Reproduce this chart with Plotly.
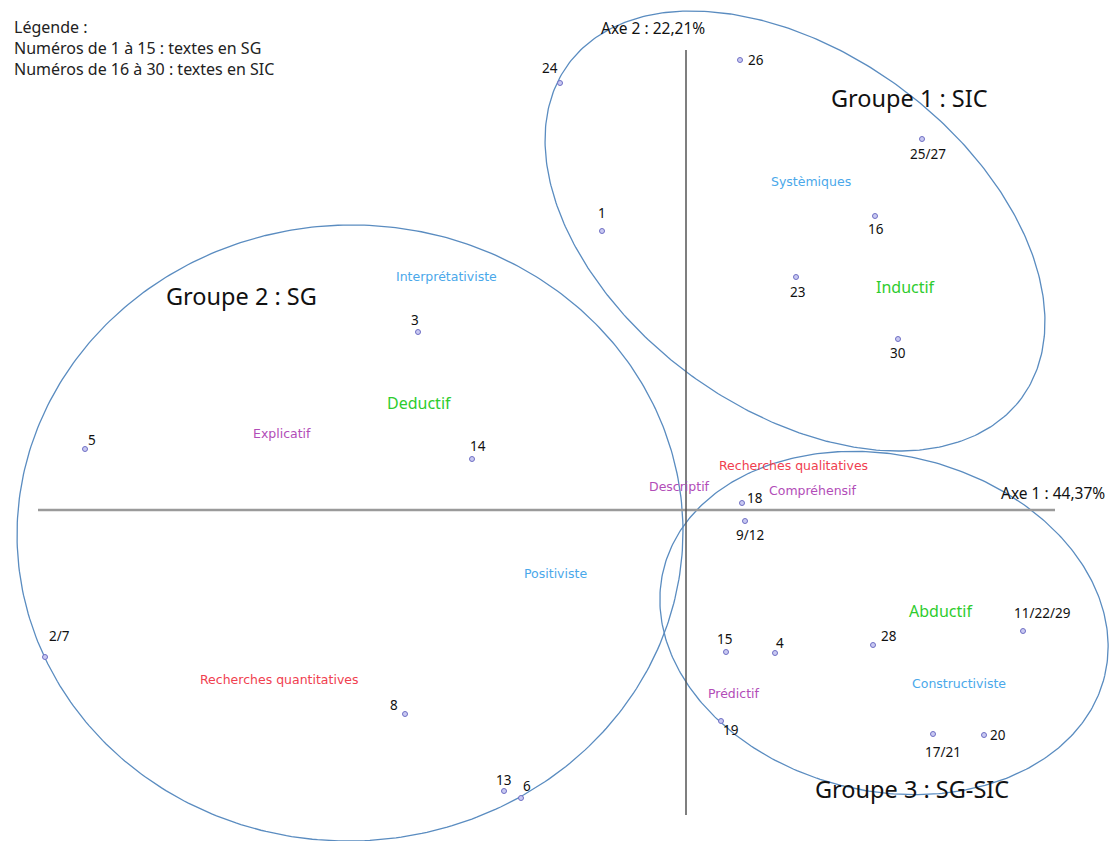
import numpy as np
import plotly.graph_objects as go

# ---- data (factorial plane coordinates, Axe 1 horizontal, Axe 2 vertical) ----
point_labels = ["24", "26", "25/27", "1", "16", "23", "30", "3", "5", "14",
                "18", "9/12", "2/7", "8", "13", "6", "15", "4", "28",
                "11/22/29", "19", "17/21", "20"]
point_x = [-1.26, 0.54, 2.36, -0.84, 1.89, 1.10, 2.12, -2.68, -6.01, -2.14,
           0.56, 0.59, -6.41, -2.81, -1.82, -1.65, 0.40, 0.89, 1.87,
           3.37, 0.35, 2.47, 2.98]
point_y = [4.27, 4.50, 3.71, 2.79, 2.94, 2.33, 1.71, 1.78, 0.61, 0.51,
           0.07, -0.11, -1.47, -2.04, -2.81, -2.88, -1.42, -1.43, -1.35,
           -1.21, -2.11, -2.24, -2.25]

concept_labels = ["Systèmiques", "Inductif", "Interprétativiste", "Deductif",
                  "Explicatif", "Recherches qualitatives", "Descriptif",
                  "Compréhensif", "Positiviste", "Abductif", "Constructiviste",
                  "Prédictif", "Recherches quantitatives"]
concept_kind = ["paradigme", "raisonnement", "paradigme", "raisonnement",
                "visee", "methode", "visee", "visee", "paradigme",
                "raisonnement", "paradigme", "visee", "methode"]
concept_x = [1.25, 2.20, -2.40, -2.67, -4.04, 1.07, -0.07, 1.27, -1.31,
             2.55, 2.73, 0.48, -4.07]
concept_y = [3.29, 2.23, 2.34, 1.07, 0.77, 0.45, 0.24, 0.20, -0.63,
             -1.01, -1.73, -1.83, -1.69]

group_labels = ["Groupe 1 : SIC", "Groupe 2 : SG", "Groupe 3 : SG-SIC"]
group_x = [2.23, -4.45, 2.26]
group_y = [4.12, 2.14, -2.79]
group_cx = [1.09, -3.36, 1.98]
group_cy = [2.79, -0.23, -1.13]
group_a = [2.815, 3.33, 2.269]
group_b = [1.779, 3.08, 1.68]
group_angle = [-36.4, 2.0, -13.4]

axis1_title = "Axe 1 : 44,37%"
axis2_title = "Axe 2 : 22,21%"
axis1_extent = [-6.48, 3.69]
axis2_extent = [-3.05, 4.60]

legend_lines = ["Légende :", "Numéros de 1 à 15 : textes en SG",
                "Numéros de 16 à 30 : textes en SIC"]

# ---- styles ----
label_offsets = {  # pixel offsets of number labels from their point
    "24": (-10, -15), "26": (16, 0), "25/27": (6, 15), "1": (0, -18),
    "16": (1, 13), "23": (1, 15), "30": (0, 14), "3": (-3, -12),
    "5": (7, -9), "14": (6, -13), "18": (13, -5), "9/12": (5, 14),
    "2/7": (14, -21), "8": (-11, -9), "13": (-1, -11), "6": (6, -12),
    "15": (-2, -13), "4": (5, -10), "28": (16, -9), "11/22/29": (19, -18),
    "19": (10, 9), "17/21": (10, 18), "20": (14, 0),
}
kind_style = {
    "paradigme": dict(color="#4aa8ea", size=12.5, family="DejaVu Sans"),
    "raisonnement": dict(color="#2ecc2e", size=16, family="Noto Sans"),
    "visee": dict(color="#b24db8", size=12.5, family="DejaVu Sans"),
    "methode": dict(color="#f0404f", size=12.5, family="DejaVu Sans"),
}
ELL_COLOR = "#5a8cc0"

fig = go.Figure()

# ellipses
t = np.linspace(0, 2 * np.pi, 400)
for cx, cy, a, b, ang in zip(group_cx, group_cy, group_a, group_b, group_angle):
    th = np.deg2rad(ang)
    ex = cx + a * np.cos(t) * np.cos(th) - b * np.sin(t) * np.sin(th)
    ey = cy + a * np.cos(t) * np.sin(th) + b * np.sin(t) * np.cos(th)
    fig.add_trace(go.Scatter(x=ex, y=ey, mode="lines",
                             line=dict(color=ELL_COLOR, width=1.3),
                             hoverinfo="skip", showlegend=False))

# axes lines
fig.add_trace(go.Scatter(x=axis1_extent, y=[0, 0], mode="lines",
                         line=dict(color="#9a9a9a", width=2.5),
                         hoverinfo="skip", showlegend=False))
fig.add_trace(go.Scatter(x=[0, 0], y=axis2_extent, mode="lines",
                         line=dict(color="#555555", width=1.5),
                         hoverinfo="skip", showlegend=False))

# points
fig.add_trace(go.Scatter(x=point_x, y=point_y, mode="markers",
                         marker=dict(size=5, color="#c9c9f2",
                                     line=dict(color="#6f6fc4", width=1)),
                         text=point_labels, hoverinfo="text",
                         showlegend=False))

annotations = []
for lab, x, y in zip(point_labels, point_x, point_y):
    dx, dy = label_offsets[lab]
    annotations.append(dict(x=x, y=y, text=lab, showarrow=False,
                            xshift=dx, yshift=-dy,
                            font=dict(family="Noto Sans", size=13.5, color="#111111")))

for lab, k, x, y in zip(concept_labels, concept_kind, concept_x, concept_y):
    annotations.append(dict(x=x, y=y, text=lab, showarrow=False,
                            font=kind_style[k]))

for lab, x, y in zip(group_labels, group_x, group_y):
    annotations.append(dict(x=x, y=y, text=lab, showarrow=False,
                            font=dict(family="Noto Sans", size=23.5, color="#111111")))

annotations.append(dict(x=3.67, y=0.17, text=axis1_title, showarrow=False,
                        font=dict(family="Noto Sans", size=15.5, color="#111111")))
annotations.append(dict(x=-0.33, y=4.82, text=axis2_title, showarrow=False,
                        font=dict(family="Noto Sans", size=15.5, color="#111111")))

annotations.append(dict(x=0.011, y=0.983, xref="paper", yref="paper",
                        xanchor="left", yanchor="top", align="left",
                        text="<br>".join(legend_lines), showarrow=False,
                        font=dict(family="Noto Sans", size=16, color="#222222")))

fig.update_layout(
    width=1109, height=841,
    margin=dict(l=0, r=0, t=0, b=0),
    paper_bgcolor="white", plot_bgcolor="white",
    xaxis=dict(range=[-6.86, 4.23], visible=False, fixedrange=True),
    yaxis=dict(range=[-3.31, 5.10], visible=False, fixedrange=True),
    annotations=annotations,
)

fig.write_html("out.html", config={"displayModeBar": False},
               post_script="document.body.style.margin='0px';")
